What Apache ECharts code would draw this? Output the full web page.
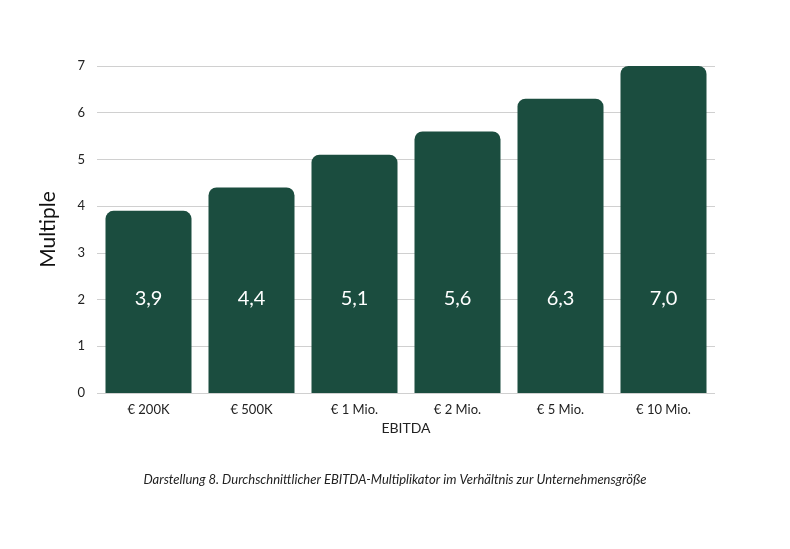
<!DOCTYPE html>
<html lang="de">
<head>
<meta charset="UTF-8">
<title>EBITDA-Multiplikator</title>
<script src="https://cdn.jsdelivr.net/npm/echarts@6/dist/echarts.min.js"></script>
<style>
  body { margin: 0; background: #fff; }
  #main { width: 790px; height: 549px; }
</style>
</head>
<body>
<div id="main"></div>
<script>
var categories = ['€ 200K', '€ 500K', '€ 1 Mio.', '€ 2 Mio.', '€ 5 Mio.', '€ 10 Mio.'];
var multiples = [3.9, 4.4, 5.1, 5.6, 6.3, 7.0];
var caption = 'Darstellung 8. Durchschnittlicher EBITDA-Multiplikator im Verhältnis zur Unternehmensgröße';

var chart = echarts.init(document.getElementById('main'));
chart.setOption({
    animation: false,
    textStyle: { fontFamily: 'Source Sans Pro, Lato, Noto Sans, sans-serif' },
    graphic: [{
        type: 'text', left: 'center', top: 473,
        style: { text: caption, font: 'italic 13px Lato, Noto Sans, sans-serif', fill: '#222' }
    }],
    grid: { left: 97, top: 66, width: 618, height: 327 },
    xAxis: {
        type: 'category', data: categories,
        name: 'EBITDA', nameLocation: 'middle', nameGap: 28,
        nameTextStyle: { fontSize: 14, color: '#222' },
        axisLine: { show: false }, axisTick: { show: false },
        axisLabel: { fontSize: 13, color: '#222', margin: 10 }
    },
    yAxis: {
        type: 'value', min: 0, max: 7, interval: 1,
        name: 'Multiple', nameLocation: 'middle', nameGap: 38,
        nameTextStyle: { fontSize: 21, color: '#111' },
        axisLabel: { fontSize: 13, color: '#222', margin: 12 },
        splitLine: { lineStyle: { color: '#d0d0d0' } }
    },
    series: [{
        type: 'bar', data: multiples, barWidth: 86,
        itemStyle: { color: '#1b4d3f', borderRadius: [8, 8, 0, 0] },
        label: {
            show: true, position: 'insideBottom', distance: 84,
            color: '#fff', fontSize: 20,
            formatter: function (p) { return p.value.toFixed(1).replace('.', ','); }
        }
    }]
});
</script>
</body>
</html>
